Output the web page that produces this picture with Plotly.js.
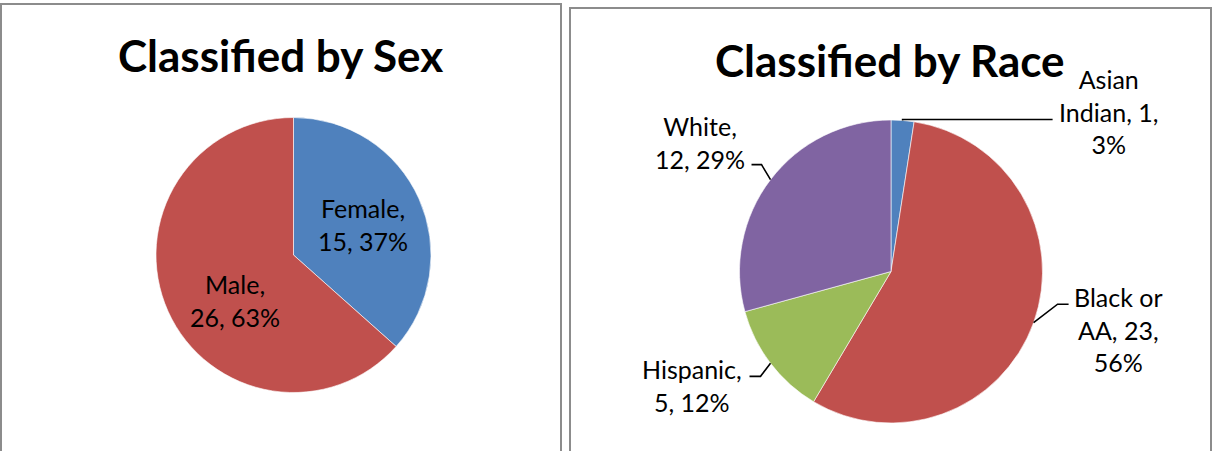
<!DOCTYPE html>
<html>
<head>
<meta charset="utf-8">
<script src="https://cdn.plot.ly/plotly-3.0.1.min.js"></script>
<style>html,body{margin:0;padding:0;background:#fff;}#chart{width:1213px;height:451px;}</style>
</head>
<body>
<div id="chart"></div>
<script>
// ---------- data ----------
const sexLabels = ["Female", "Male"];
const sexValues = [15, 26];
const sexPercents = ["37%", "63%"];

const raceLabels = ["Asian Indian", "Black or AA", "Hispanic", "White"];
const raceValues = [1, 23, 5, 12];
const racePercents = ["3%", "56%", "12%", "29%"];
const raceLabelText = ["Asian<br>Indian, 1,<br>3%", "Black or<br>AA, 23,<br>56%", "Hispanic,<br>5, 12%", "White,<br>12, 29%"];

const sexTitle = "Classified by Sex";
const raceTitle = "Classified by Race";

// ---------- layout constants ----------
const W = 1213, H = 451;
const sexColors = ["#4F81BD", "#C0504D"];
const raceColors = ["#4F81BD", "#C0504D", "#9BBB59", "#8064A2"];
const sexGeo = {cx: 293.5, cy: 255, r: 137.5};
const raceGeo = {cx: 891, cy: 271.5, r: 151.5};
// inside label placement for the sex pie: radial fraction and angle nudge (deg)
const sexLabelFrac = [0.55, 0.54];
const sexLabelNudge = [0, -14];
// leader line layout for race labels: elbow offset from edge, horizontal run, text offset from line end
const raceElbow = [[0, -1], [24, -18.5], [-10, 13], [-9, -15]];
const raceRun = [150, 11, -11, -10];
const raceTextOff = [[56, -8], [50, 25], [-58, 9], [-52, -22]];

const FONT = "Lato, 'Open Sans', sans-serif";
const px = x => x / W;
const py = y => 1 - y / H;

function domainOf(g) {
  return {x: [px(g.cx - g.r), px(g.cx + g.r)], y: [py(g.cy + g.r), py(g.cy - g.r)]};
}
function midAngles(vals) {
  const tot = vals.reduce((a, b) => a + b, 0);
  let cum = 0;
  return vals.map(v => { const a = (cum + v / 2) / tot * 2 * Math.PI; cum += v; return a; });
}

const traces = [
  {type: "pie", labels: sexLabels, values: sexValues, sort: false, direction: "clockwise", rotation: 0,
   marker: {colors: sexColors, line: {color: "#ffffff", width: 0.6}}, textinfo: "none", hoverinfo: "label+value+percent",
   showlegend: false, domain: domainOf(sexGeo)},
  {type: "pie", labels: raceLabels, values: raceValues, sort: false, direction: "clockwise", rotation: 0,
   marker: {colors: raceColors, line: {color: "#ffffff", width: 0.6}}, textinfo: "none", hoverinfo: "label+value+percent",
   showlegend: false, domain: domainOf(raceGeo)}
];

const annotations = [];
const shapes = [];

// panel borders
shapes.push({type: "rect", xref: "paper", yref: "paper", x0: px(1), x1: px(561), y0: py(470), y1: py(4),
  line: {color: "#8c8c8c", width: 2}, fillcolor: "rgba(0,0,0,0)"});
shapes.push({type: "rect", xref: "paper", yref: "paper", x0: px(570), x1: px(1211), y0: py(470), y1: py(8),
  line: {color: "#8c8c8c", width: 2}, fillcolor: "rgba(0,0,0,0)"});

// titles
annotations.push({text: "<b>" + sexTitle + "</b>", xref: "paper", yref: "paper", x: px(280), y: py(55),
  xanchor: "center", yanchor: "middle", showarrow: false, font: {family: FONT, size: 44, color: "#000"}});
annotations.push({text: "<b>" + raceTitle + "</b>", xref: "paper", yref: "paper", x: px(890), y: py(60),
  xanchor: "center", yanchor: "middle", showarrow: false, font: {family: FONT, size: 44, color: "#000"}});

// sex labels (inside)
midAngles(sexValues).forEach((a, i) => {
  const ang = a + sexLabelNudge[i] * Math.PI / 180;
  const rr = sexGeo.r * sexLabelFrac[i];
  const x = sexGeo.cx + rr * Math.sin(ang);
  const y = sexGeo.cy - rr * Math.cos(ang);
  annotations.push({text: sexLabels[i] + ",<br>" + sexValues[i] + ", " + sexPercents[i], xref: "paper", yref: "paper",
    x: px(x), y: py(y), xanchor: "center", yanchor: "middle", showarrow: false, align: "center",
    font: {family: FONT, size: 25, color: "#000"}});
});

// race labels (outside with leader lines)
midAngles(raceValues).forEach((a, i) => {
  const ex = raceGeo.cx + raceGeo.r * Math.sin(a);
  const ey = raceGeo.cy - raceGeo.r * Math.cos(a);
  const bx = ex + raceElbow[i][0], by = ey + raceElbow[i][1];
  const lx = bx + raceRun[i], ly = by;
  shapes.push({type: "path", xref: "paper", yref: "paper",
    path: `M ${px(ex)} ${py(ey)} L ${px(bx)} ${py(by)} L ${px(lx)} ${py(ly)}`,
    line: {color: "#000", width: 1.6}});
  annotations.push({text: raceLabelText[i], xref: "paper", yref: "paper",
    x: px(lx + raceTextOff[i][0]), y: py(ly + raceTextOff[i][1]), xanchor: "center", yanchor: "middle",
    showarrow: false, align: "center", font: {family: FONT, size: 25, color: "#000"}});
});

const layout = {
  width: W, height: H, margin: {l: 0, r: 0, t: 0, b: 0},
  paper_bgcolor: "#fff", plot_bgcolor: "#fff",
  showlegend: false, annotations: annotations, shapes: shapes
};
Plotly.newPlot("chart", traces, layout, {displayModeBar: false, staticPlot: true});
</script>
</body>
</html>
